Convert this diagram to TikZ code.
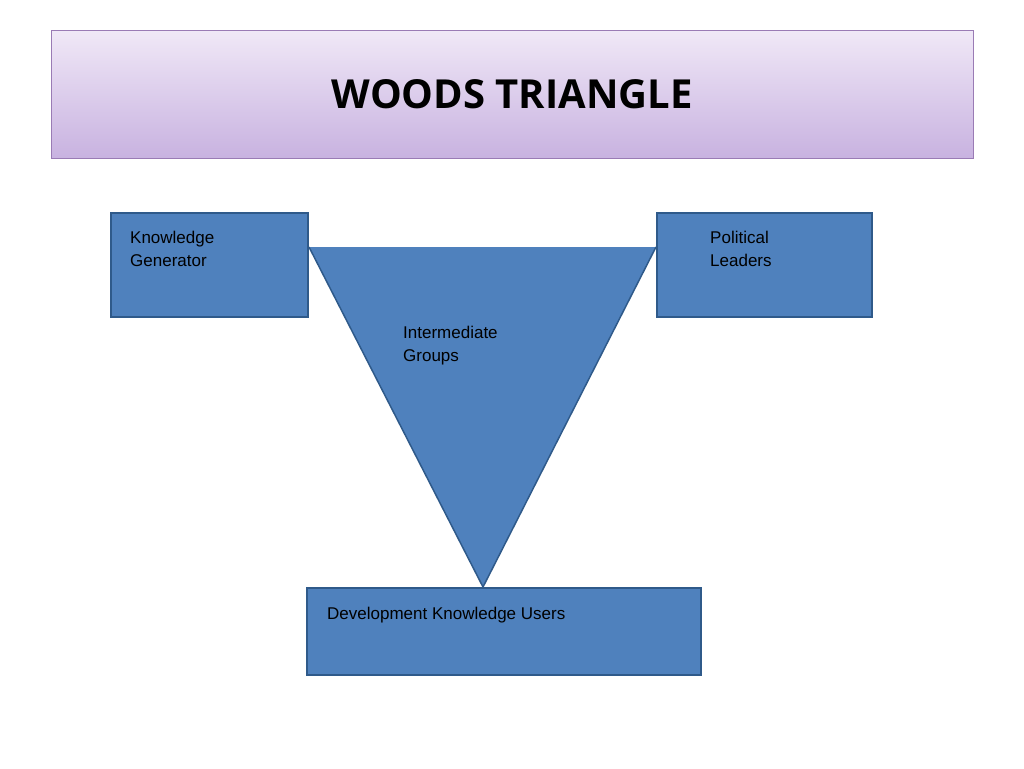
\documentclass[tikz,border=0pt]{standalone}
\usepackage{fontspec}
\setmainfont{Liberation Sans}
\newfontfamily\titlefont{Open Sans}
\usetikzlibrary{positioning}
\definecolor{boxblue}{HTML}{4F81BD}
\definecolor{boxline}{HTML}{2F5A8A}
\definecolor{titletop}{HTML}{F0E8F7}
\definecolor{titlebot}{HTML}{C8B2E0}
\definecolor{titleline}{HTML}{9A7BB5}
\begin{document}
\begin{tikzpicture}[x=1pt,y=-1pt,
	bnode/.style={rectangle,draw=boxline,fill=boxblue,line width=1.5pt,anchor=north west},
	tnode/.style={anchor=north west,align=left,font=\fontsize{17}{23}\selectfont,inner sep=0pt}]
	\useasboundingbox (0,0) rectangle (1024,768);
	\node[rectangle,draw=titleline,top color=titletop,bottom color=titlebot,anchor=north west,
		minimum width=922pt,minimum height=128pt] (title) at (51,30)
		{\titlefont\bfseries\fontsize{40}{48}\selectfont WOODS TRIANGLE};
	\node[bnode,minimum width=197pt,minimum height=104pt] (kg) at (110,212) {};
	\node[bnode,minimum width=215pt,minimum height=104pt] (pl) at (656,212) {};
	\coordinate (tl) at (309,247);
	\coordinate (tr) at (656,247);
	\coordinate (tb) at (483,587);
	\fill[boxblue] (tl) -- (tr) -- (tb) -- cycle;
	\draw[boxline,line width=1.5pt] (tr) -- (tb) -- (tl);
	\node[bnode,minimum width=394pt,minimum height=87pt] (dku) at (306,587) {};
	\node[tnode] (kgt) at (130,231) {Knowledge\\Generator};
	\node[tnode] (plt) at (710,231) {Political\\Leaders};
	\node[tnode] (igt) at (403,326) {Intermediate\\Groups};
	\node[tnode] (dkut) at (327,607) {Development Knowledge Users};
\end{tikzpicture}
\end{document}
